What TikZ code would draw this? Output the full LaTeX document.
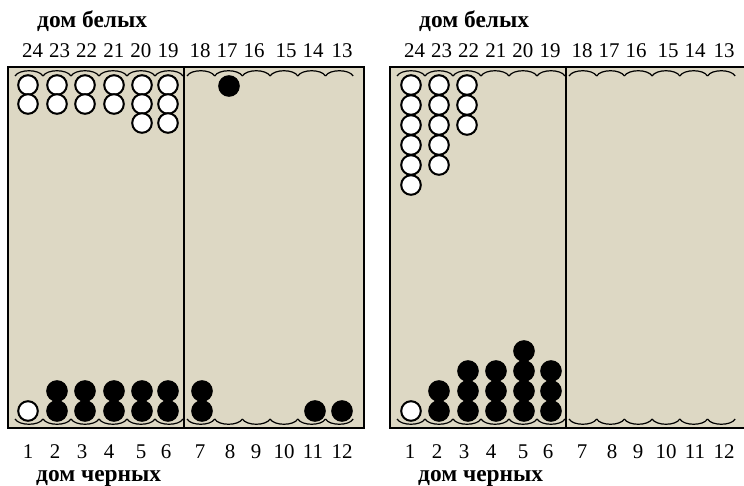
\documentclass[tikz,border=0pt]{standalone}
\usepackage{fontspec}
\setmainfont{Liberation Serif}
\definecolor{boardfill}{RGB}{221,216,196}
\begin{document}
\begin{tikzpicture}[x=1bp,y=-1bp,
  boardbox/.style={fill=boardfill,draw=black,line width=2bp},
  divider/.style={draw=black,line width=1.5bp},
  scallop/.style={draw=black,line width=1.2bp},
  wc/.style={fill=white,draw=black,line width=2bp},
  bc/.style={fill=black,draw=black,line width=2bp},
  num/.style={font=\fontsize{21}{21}\selectfont,anchor=base,inner sep=0pt},
  house/.style={font=\fontsize{23.5}{23.5}\selectfont\bfseries,anchor=base west,inner sep=0pt}]
\useasboundingbox (0,0) rectangle (744,486);
\foreach \b/\s in {L/0,R/382}{
\begin{scope}[shift={(\s,0)}]
  \draw[boardbox] (8,67) rectangle (364,428);
  \draw[divider] (184,67) -- (184,428);
  % scallops
  \foreach \i in {0,...,5}{
    \pgfmathsetmacro{\xa}{15+28*\i}
    \pgfmathsetmacro{\xb}{187+27.7*\i}
    \draw[scallop] (\xa,76) .. controls (\xa+4,69) and (\xa+24,69) .. (\xa+28,76);
    \draw[scallop] (\xb,76) .. controls (\xb+4,69) and (\xb+23.7,69) .. (\xb+27.7,76);
    \draw[scallop] (\xa,419) .. controls (\xa+4,426) and (\xa+24,426) .. (\xa+28,419);
    \draw[scallop] (\xb,419) .. controls (\xb+4,426) and (\xb+23.7,426) .. (\xb+27.7,419);
  }
  % labels
  \foreach \n/\x in {24/32.5,23/59.6,22/86.7,21/113.8,20/140.9,19/168,18/200,17/227,16/254,15/286,14/313,13/342}{
    \node[num] (t\n\b) at (\x,58) {\n};
  }
  \foreach \n/\x in {1/28,2/55,3/82,4/109,5/141,6/166,7/200,8/230,9/256,10/284,11/313,12/342}{
    \node[num] (p\n\b) at (\x,458) {\n};
  }
  \node[house] (hw\b) at (37,28) {дом белых};
  \node[house] (hb\b) at (36,481) {дом черных};
\end{scope}}
% left board checkers
\foreach \x in {28,57,85,114}{
  \foreach \y in {85,104}{ \draw[wc] (\x,\y) circle[radius=9.8bp]; }}
\foreach \x in {142,168}{
  \foreach \y in {85,104,123}{ \draw[wc] (\x,\y) circle[radius=9.8bp]; }}
\draw[bc] (229,86) circle[radius=9.8bp];
\draw[wc] (28,411) circle[radius=9.8bp];
\foreach \x in {57,85,114,142,168,202}{
  \foreach \y in {411,391}{ \draw[bc] (\x,\y) circle[radius=9.8bp]; }}
\draw[bc] (315,411) circle[radius=9.8bp];
\draw[bc] (342,411) circle[radius=9.8bp];
% right board checkers
\foreach \y in {85,105,125,145,165,185}{ \draw[wc] (411,\y) circle[radius=9.8bp]; }
\foreach \y in {85,105,125,145,165}{ \draw[wc] (439,\y) circle[radius=9.8bp]; }
\foreach \y in {85,105,125}{ \draw[wc] (467,\y) circle[radius=9.8bp]; }
\draw[wc] (411,411) circle[radius=9.8bp];
\foreach \y in {411,391}{ \draw[bc] (439,\y) circle[radius=9.8bp]; }
\foreach \y in {411,391,371}{ \draw[bc] (468,\y) circle[radius=9.8bp]; }
\foreach \y in {411,391,371}{ \draw[bc] (496,\y) circle[radius=9.8bp]; }
\foreach \y in {411,391,371,351}{ \draw[bc] (524,\y) circle[radius=9.8bp]; }
\foreach \y in {411,391,371}{ \draw[bc] (551,\y) circle[radius=9.8bp]; }
\end{tikzpicture}
\end{document}
